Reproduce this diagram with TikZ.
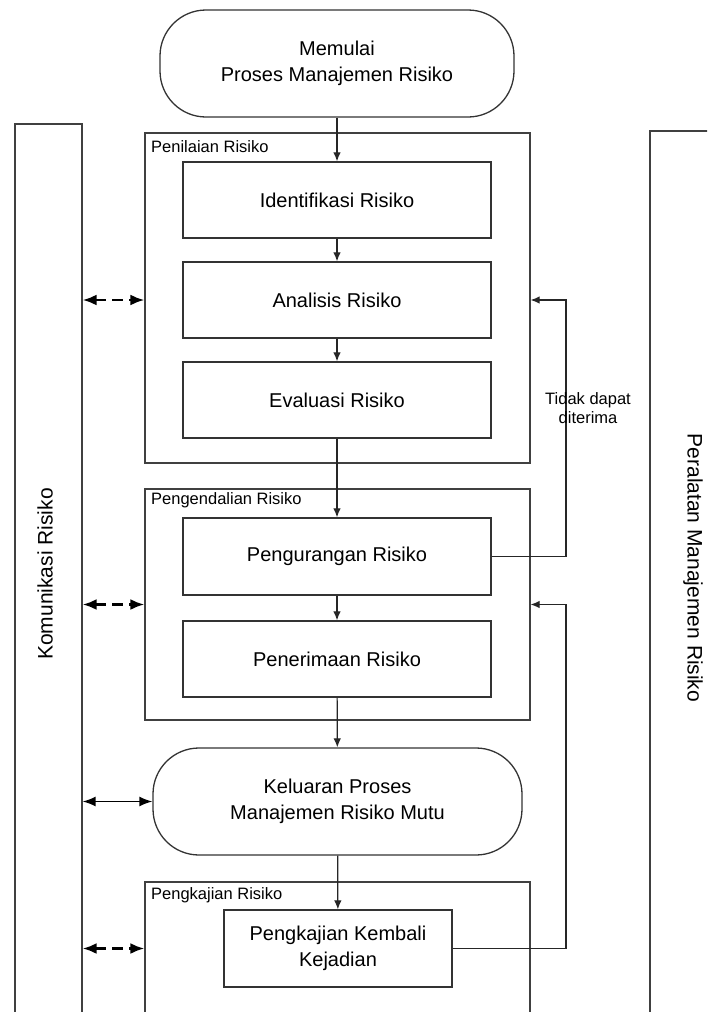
\documentclass[tikz,border=0pt]{standalone}
\usepackage{fontspec}
\setmainfont{Liberation Sans}
\usetikzlibrary{arrows.meta}
\begin{document}
\begin{tikzpicture}[x=1pt,y=-1pt,
  line/.style={draw=black!85, line width=1.2pt},
  box/.style={draw=black!80, line width=1.3pt, rectangle, inner sep=0pt, font=\fontsize{20}{26}\selectfont, align=center, text=black},
  term/.style={box, rounded corners=46pt},
  grp/.style={draw=black!75, line width=1.2pt, rectangle, inner sep=0pt},
  lbl/.style={font=\fontsize{16.5}{19.5}\selectfont, inner sep=0pt, text=black},
  side/.style={font=\fontsize{21}{25}\selectfont, inner sep=0pt, text=black},
  arr/.style={line, -{Latex[length=9pt,width=7.5pt]}},
  dasharr/.style={draw=black, line width=2.6pt, dash pattern=on 11pt off 6pt, {Latex[length=14pt,width=11pt]}-{Latex[length=14pt,width=11pt]}},
  solarr/.style={draw=black, line width=1.6pt, {Latex[length=13pt,width=10pt]}-{Latex[length=13pt,width=10pt]}},
]
\useasboundingbox (0,0) rectangle (707,1012);
\fill[white] (0,0) rectangle (707,1012);
\clip (0,0) rectangle (707,1012);

% side bars
\node[grp, minimum width=67pt, minimum height=916pt] (kom) at (48.5,582) {};
\node[side, rotate=90] (komt) at (45,574) {Komunikasi Risiko};
\node[grp, minimum width=70pt, minimum height=909pt] (alat) at (685,585.5) {};
\node[side, rotate=-90] (alatt) at (693,568) {Peralatan Manajemen Risiko};

% group boxes
\node[grp, minimum width=385pt, minimum height=330pt] (penilaian) at (337.5,298) {};
\node[lbl, anchor=west] (lpenilaian) at (151,147) {Penilaian Risiko};
\node[grp, minimum width=385pt, minimum height=231pt] (pengendalian) at (337.5,604.5) {};
\node[lbl, anchor=west] (lpengendalian) at (151,500) {Pengendalian Risiko};
\node[grp, minimum width=385pt, minimum height=158pt] (pengkajian) at (337.5,961) {};
\node[lbl, anchor=west] (lpengkajian) at (151,895) {Pengkajian Risiko};

% main flow
\node[term, minimum width=354pt, minimum height=107pt] (start) at (337,63.5) {Memulai\\Proses Manajemen Risiko};
\node[box, minimum width=308pt, minimum height=76pt] (ident) at (337,200) {Identifikasi Risiko};
\node[box, minimum width=308pt, minimum height=76pt] (anal) at (337,300) {Analisis Risiko};
\node[box, minimum width=308pt, minimum height=76pt] (eval) at (337,400) {Evaluasi Risiko};
\node[box, minimum width=308pt, minimum height=77pt] (kurang) at (337,556.5) {Pengurangan Risiko};
\node[box, minimum width=308pt, minimum height=76pt] (terima) at (337,659) {Penerimaan Risiko};
\node[term, minimum width=369pt, minimum height=107pt] (kel) at (337.5,801.5) {Keluaran Proses\\Manajemen Risiko Mutu};
\node[box, minimum width=228pt, minimum height=77pt] (kembali) at (338,948.5) {Pengkajian Kembali\\Kejadian};

\draw[arr] (start) -- (ident);
\draw[arr] (ident) -- (anal);
\draw[arr] (anal) -- (eval);
\draw[arr] (eval) -- (kurang);
\draw[arr] (kurang) -- (terima);
\draw[arr] (terima) -- (kel);
\draw[arr] (kel) -- (kembali);

% feedback loops
\coordinate (fbx) at (566,0);
\draw[arr] (kurang.east) -| (fbx |- anal) -- (penilaian.east |- anal);
\draw[arr] (kembali.east) -| (fbx |- pengendalian.east) -- (pengendalian.east);
\node[lbl, align=center] (tidak) at (588,408) {Tidak dapat\\diterima};

% communication arrows
\draw[dasharr] (kom.east |- anal) -- (penilaian.west |- anal);
\draw[dasharr] (kom.east |- pengendalian.west) -- (pengendalian.west);
\draw[solarr] (kom.east |- kel) -- (kel.west);
\draw[dasharr] (kom.east |- kembali) -- (pengkajian.west |- kembali);
\end{tikzpicture}
\end{document}
